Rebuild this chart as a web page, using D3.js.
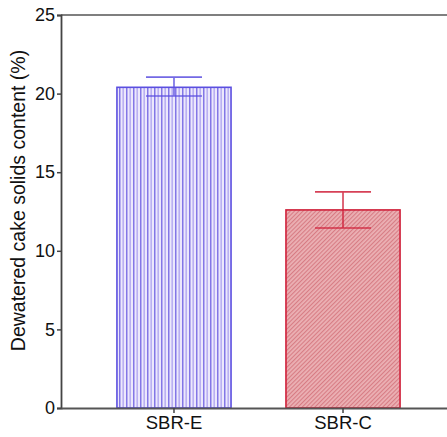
<!DOCTYPE html>
<html>
<head>
<meta charset="utf-8">
<script src="https://cdn.jsdelivr.net/npm/d3@7"></script>
<style>
  html, body { margin: 0; padding: 0; background: #fff; }
  svg { display: block; }
</style>
</head>
<body>
<svg id="chart" width="447" height="437"></svg>
<script>
// Reactor types and dewatered cake solids content (%)
const categories = ["SBR-E", "SBR-C"];
const means = [20.4, 12.6];
const errUpper = [21.05, 13.75];
const errLower = [19.85, 11.45];
const yTicks = [0, 5, 10, 15, 20, 25];
const barColors = ["#5b4fe0", "#d0203a"];

const svg = d3.select("#chart");
const margin = { left: 61, top: 15, right: 0, bottom: 29 };
const W = 447, H = 437;
const font = "Liberation Sans, Arial, sans-serif";

const y = d3.scaleLinear().domain([0, 25]).range([H - margin.bottom, margin.top]);
const x = d3.scaleBand().domain(categories).range([61, 456])
  .paddingInner(0.325).paddingOuter(0.331);

const defs = svg.append("defs");

// Vertical stripes for SBR-E
const pv = defs.append("pattern")
  .attr("id", "stripes").attr("patternUnits", "userSpaceOnUse")
  .attr("width", 7).attr("height", 10);
pv.append("rect").attr("width", 7).attr("height", 10).attr("fill", "#ece8fc");
pv.append("rect").attr("x", 0).attr("width", 1.5).attr("height", 10).attr("fill", "#8376e6");
pv.append("rect").attr("x", 3.5).attr("width", 1.3).attr("height", 10).attr("fill", "#aea3f0");

// Fine diagonal hatch for SBR-C
const pd = defs.append("pattern")
  .attr("id", "hatch").attr("patternUnits", "userSpaceOnUse")
  .attr("width", 3).attr("height", 3)
  .attr("patternTransform", "rotate(-45)");
pd.append("rect").attr("width", 3).attr("height", 3).attr("fill", "#ebb0b4");
pd.append("rect").attr("width", 3).attr("height", 1.1).attr("fill", "#d77c84");

const fills = ["url(#stripes)", "url(#hatch)"];

// Bars
svg.selectAll("rect.bar").data(categories).join("rect")
  .attr("class", "bar")
  .attr("x", d => x(d))
  .attr("y", (d, i) => y(means[i]))
  .attr("width", x.bandwidth())
  .attr("height", (d, i) => y(0) - y(means[i]))
  .attr("fill", (d, i) => fills[i])
  .attr("stroke", (d, i) => barColors[i])
  .attr("stroke-width", 1.6);

// Error bars
const cap = 56;
categories.forEach((c, i) => {
  const cx = x(c) + x.bandwidth() / 2;
  const g = svg.append("g").attr("stroke", barColors[i]).attr("stroke-width", 1.6).attr("opacity", 0.85);
  g.append("line").attr("x1", cx).attr("x2", cx).attr("y1", y(errUpper[i])).attr("y2", y(errLower[i]));
  g.append("line").attr("x1", cx - cap / 2).attr("x2", cx + cap / 2).attr("y1", y(errUpper[i])).attr("y2", y(errUpper[i]));
  g.append("line").attr("x1", cx - cap / 2).attr("x2", cx + cap / 2).attr("y1", y(errLower[i])).attr("y2", y(errLower[i]));
});

// Top frame line
svg.append("line")
  .attr("x1", margin.left).attr("x2", W)
  .attr("y1", y(25)).attr("y2", y(25))
  .attr("stroke", "#555").attr("stroke-width", 1.6);

// Y axis
const yAxis = svg.append("g")
  .attr("transform", `translate(${margin.left},0)`)
  .call(d3.axisLeft(y).tickValues(yTicks).tickSize(4).tickPadding(2));
yAxis.select(".domain").attr("stroke", "#444").attr("stroke-width", 1.8);
yAxis.selectAll(".tick line").attr("stroke", "#444").attr("stroke-width", 1.5);
yAxis.selectAll("text").attr("font-family", font)
  .attr("font-size", 18).attr("fill", "#111");

// X axis
const xAxis = svg.append("g")
  .attr("transform", `translate(0,${y(0)})`)
  .call(d3.axisBottom(x).tickSize(5).tickPadding(3).tickSizeOuter(0));
xAxis.select(".domain").attr("stroke", "#555").attr("stroke-width", 1.8);
xAxis.selectAll(".tick line").attr("stroke", "#444").attr("stroke-width", 1.5);
xAxis.selectAll("text").attr("font-family", font)
  .attr("font-size", 18.5).attr("fill", "#111");

// Y axis title
svg.append("text")
  .attr("transform", `translate(25,${(48 + 353) / 2}) rotate(-90)`)
  .attr("text-anchor", "middle")
  .attr("font-family", font)
  .attr("font-size", 19.5).attr("fill", "#111")
  .text("Dewatered cake solids content (%)");
</script>
</body>
</html>
